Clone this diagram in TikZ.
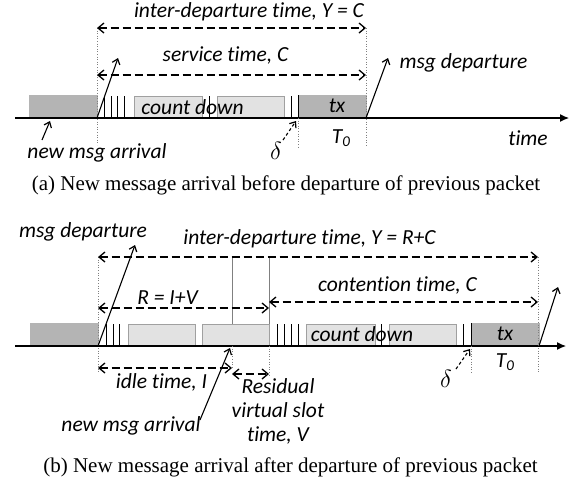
\documentclass[tikz,border=0pt]{standalone}
\usepackage{fontspec}
\setmainfont{Liberation Serif}
\newfontfamily\calib[Ligatures=NoCommon]{Carlito}
\usetikzlibrary{arrows.meta}

\definecolor{txgray}{RGB}{180,180,180}
\definecolor{slotgray}{RGB}{226,226,226}
\definecolor{slotedge}{RGB}{160,160,160}

\begin{document}
\begin{tikzpicture}[x=1pt, y=-1pt,
  lbl/.style={font=\calib\itshape\fontsize{21.5}{24}\selectfont, inner sep=0pt},
  captext/.style={font=\fontsize{21}{23}\selectfont, inner sep=0pt},
  dlt/.style={font=\fontsize{28}{28}\selectfont, inner sep=0pt},
  dim/.style={line width=1.3pt, dash pattern=on 8pt off 4pt,
    {Straight Barb[length=6pt,width=10pt,line width=1.3pt]}-{Straight Barb[length=6pt,width=10pt,line width=1.3pt]}},
  hit/.style={line width=1.1pt, -{Straight Barb[length=5pt,width=8pt,line width=1.2pt]}},
  dhit/.style={hit, dash pattern=on 3pt off 2.5pt},
  guide/.style={gray, line width=0.6pt, dotted},
  slotline/.style={line width=0.7pt},
  txbox/.style={fill=txgray, draw=txgray},
  cdbox/.style={fill=slotgray, draw=slotedge, line width=0.5pt},
  timeaxis/.style={line width=1.2pt, -{Latex[length=9pt,width=8pt]}}]
  \useasboundingbox (0,0) rectangle (578,483);

  % ---------- (a) arrival before departure ----------
  \def\ya{118}
  \fill[txbox] (29,95) rectangle (97,\ya);
  \foreach \x in {104,111,117.5,124} \draw[slotline] (\x,96) -- (\x,\ya);
  \draw[cdbox] (134,96) rectangle (202,\ya);
  \draw[cdbox] (217,96) rectangle (284,\ya);
  \draw[slotline] (209.5,96) -- (209.5,\ya);
  \draw[slotline] (291.5,96) -- (291.5,\ya);
  \fill[txbox] (298,95) rectangle (366,\ya);
  \draw[line width=1pt] (298,95) -- (298,\ya);
  \node[lbl] (cda) at (192.5,107) {count down};
  \node[lbl] (txa) at (337,106) {tx};

  \coordinate (sa) at (97,\ya);
  \coordinate (da) at (366,\ya);
  \coordinate (axa0) at (15,\ya);
  \coordinate (axa1) at (569,\ya);
  \draw[timeaxis] (axa0) -- (axa1);

  % guide lines
  \draw[guide] (97,28) -- (97,145);
  \draw[guide] (366,28) -- (366,147);
  \draw[guide] (298,\ya) -- (298,147);

  % spans
  \coordinate (ya0) at (97,28);  \coordinate (ya1) at (366,28);
  \coordinate (ca0) at (97,75);  \coordinate (ca1) at (366,75);
  \draw[dim] (ya0) -- (ya1);
  \draw[dim] (ca0) -- (ca1);
  \node[lbl] (ytxt) at (249,12) {inter-departure time, Y = C};
  \node[lbl] (ctxt) at (225.5,55) {service time, C};

  % arrivals / departures
  \coordinate (arra) at (118,58);
  \coordinate (depa) at (388,58);
  \draw[hit] (sa) -- (arra);
  \draw[hit] (da) -- (depa);
  \node[lbl] (deptxt) at (463.5,63) {msg departure};
  \node[lbl] (newa) at (97,153) {new msg arrival};
  \coordinate (newa0) at (42,140); \coordinate (newa1) at (50,121);
  \draw[hit] (newa0) -- (newa1);
  \node[dlt] (dla) at (276,151) {$\delta$};
  \coordinate (dla0) at (283,140); \coordinate (dla1) at (296,121);
  \draw[dhit] (dla0) -- (dla1);
  \node[lbl] (t0a) at (341,138) {T\raisebox{-0.35ex}{\fontsize{15}{15}\selectfont 0}};
  \node[lbl] (timea) at (528,138) {time};
  \node[captext] (capa) at (286,185) {(a) New message arrival before departure of previous packet};

  % ---------- (b) arrival after departure ----------
  \def\yb{346}
  \fill[txbox] (30,323) rectangle (98,\yb);
  \foreach \x in {106,113,119.5} \draw[slotline] (\x,324) -- (\x,\yb);
  \draw[cdbox] (128,324) rectangle (195,\yb);
  \draw[cdbox] (202,324) rectangle (269,\yb);
  \foreach \x in {277,284,291,298} \draw[slotline] (\x,324) -- (\x,\yb);
  \draw[cdbox] (306,324) rectangle (375,\yb);
  \draw[cdbox] (389,324) rectangle (456,\yb);
  \draw[slotline] (381.5,324) -- (381.5,\yb);
  \draw[slotline] (463.5,324) -- (463.5,\yb);
  \fill[txbox] (471,323) rectangle (539,\yb);
  \draw[line width=1pt] (471,323) -- (471,\yb);
  \node[lbl] (cdb) at (362,334) {count down};
  \node[lbl] (txb) at (505,334) {tx};

  \coordinate (sb) at (98,\yb);
  \coordinate (db) at (539,\yb);
  \coordinate (axb0) at (15,\yb);
  \coordinate (axb1) at (566,\yb);
  \draw[timeaxis] (axb0) -- (axb1);

  % guide lines
  \draw[guide] (98,257) -- (98,372);
  \draw[guide] (538,257) -- (538,373);
  \draw[guide] (471,\yb) -- (471,373);
  \draw[gray, line width=0.6pt] (232,257) -- (232,324);
  \draw[gray, line width=0.6pt] (269,257) -- (269,324);
  \draw[guide] (232,\yb) -- (232,368);
  \draw[guide] (269,\yb) -- (269,375);

  % spans
  \coordinate (yb0) at (98,257);  \coordinate (yb1) at (538,257);
  \coordinate (rb0) at (98,308);  \coordinate (rb1) at (269,308);
  \coordinate (cb0) at (269,302); \coordinate (cb1) at (538,302);
  \coordinate (ib0) at (98,368);  \coordinate (ib1) at (232,368);
  \coordinate (vb0) at (232,374); \coordinate (vb1) at (269,374);
  \draw[dim] (yb0) -- (yb1);
  \draw[dim] (rb0) -- (rb1);
  \draw[dim] (cb0) -- (cb1);
  \draw[dim] (ib0) -- (ib1);
  \draw[dim] (vb0) -- (vb1);
  \node[lbl] (ytxtb) at (309.5,239) {inter-departure time, Y = R+C};
  \node[lbl] (rtxt) at (167.5,298) {R = I+V};
  \node[lbl] (ctxtb) at (397.5,285) {contention time, C};
  \node[lbl] (itxt) at (161.5,382) {idle time, I};
  \node[lbl, align=center] (vtxt) at (278,411) {Residual\\virtual slot\\time, V};

  % arrivals / departures
  \coordinate (depb0) at (135,245);
  \coordinate (depb1) at (558,287);
  \draw[hit] (sb) -- (depb0);
  \draw[hit] (db) -- (depb1);
  \node[lbl] (deptxtb) at (83,232) {msg departure};
  \coordinate (arrb0) at (200,420); \coordinate (arrb1) at (230,348);
  \draw[hit] (arrb0) -- (arrb1);
  \node[lbl] (newb) at (131,426) {new msg arrival};
  \node[dlt] (dlb) at (446,379) {$\delta$};
  \coordinate (dlb0) at (456,369); \coordinate (dlb1) at (470,349);
  \draw[dhit] (dlb0) -- (dlb1);
  \node[lbl] (t0b) at (505,362) {T\raisebox{-0.35ex}{\fontsize{15}{15}\selectfont 0}};
  \node[captext] (capb) at (290.5,467) {(b) New message arrival after departure of previous packet};
\end{tikzpicture}
\end{document}
